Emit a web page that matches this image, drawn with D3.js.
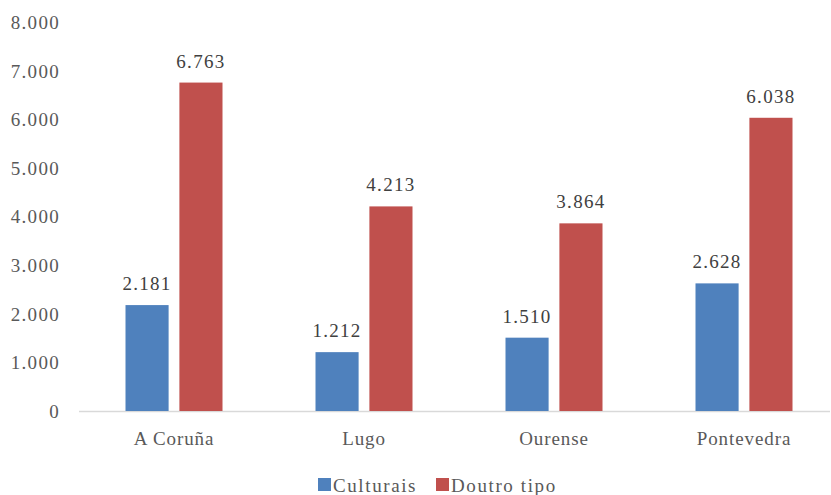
<!DOCTYPE html>
<html><head><meta charset="utf-8">
<script src="https://cdn.jsdelivr.net/npm/d3@7"></script>
<style>body{margin:0;background:#fff}svg{display:block}</style>
</head><body>
<script>
const categories = ["A Coruña","Lugo","Ourense","Pontevedra"];
const seriesNames = ["Culturais","Doutrotipo"];
const legendLabels = ["Culturais","Doutro tipo"];
const culturais = [2181,1212,1510,2628];
const doutrotipo = [6763,4213,3864,6038];
const yTicks = [0,1000,2000,3000,4000,5000,6000,7000,8000];
const colors = ["#4F81BD","#C0504D"];

const W=831,H=495;
const svg=d3.select("body").append("svg").attr("width",W).attr("height",H);
const fmt = v => d3.format(",")(v).replace(/,/g,".");
const FF = '"Liberation Serif"';

const y=d3.scaleLinear().domain([0,8000]).range([411,22.5]);
const x=d3.scaleBand().domain(categories).range([79,839]);
const x1=d3.scaleBand().domain(seriesNames).range([-48.5,48.5]).paddingInner(0.2);

// axis line
svg.append("line").attr("x1",79).attr("x2",830).attr("y1",y(0)+0.5).attr("y2",y(0)+0.5)
  .attr("stroke","#D9D9D9").attr("stroke-width",1.5);

// y labels
svg.selectAll(".yl").data(yTicks).enter().append("text")
  .attr("x",60).attr("y",d=>y(d)).attr("dy","0.35em").attr("text-anchor","end")
  .style("font-family",FF).style("font-size","19px").style("letter-spacing","1.3px").attr("fill","#595959")
  .text(d=>fmt(d));

const data=[culturais,doutrotipo];
data.forEach((vals,si)=>{
  const g=svg.append("g");
  g.selectAll("rect").data(vals).enter().append("rect")
    .attr("x",(d,i)=>x(categories[i])+x.bandwidth()/2+x1(seriesNames[si]))
    .attr("width",x1.bandwidth())
    .attr("y",d=>y(d)).attr("height",d=>y(0)-y(d))
    .attr("fill",colors[si]);
  g.selectAll("text").data(vals).enter().append("text")
    .attr("x",(d,i)=>x(categories[i])+x.bandwidth()/2+x1(seriesNames[si])+x1.bandwidth()/2)
    .attr("y",d=>y(d)-15).attr("text-anchor","middle")
    .style("font-family",FF).style("font-size","19px").style("letter-spacing","1.3px").attr("fill","#404040")
    .text(d=>fmt(d));
});

// category labels
svg.selectAll(".cl").data(categories).enter().append("text")
  .attr("x",d=>x(d)+x.bandwidth()/2).attr("y",438).attr("dy","0.35em").attr("text-anchor","middle")
  .style("font-family",FF).style("font-size","19px").style("letter-spacing","0.9px").attr("fill","#595959")
  .text(d=>d);

// legend
const lx=[318,436];
legendLabels.forEach((t,i)=>{
  svg.append("rect").attr("x",lx[i]).attr("y",478).attr("width",13).attr("height",13).attr("fill",colors[i]);
  svg.append("text").attr("x",lx[i]+15).attr("y",485).attr("dy","0.35em")
    .style("font-family",FF).style("font-size","19px").style("letter-spacing","1.6px").attr("fill","#595959")
    .text(t);
});
</script>
</body></html>
